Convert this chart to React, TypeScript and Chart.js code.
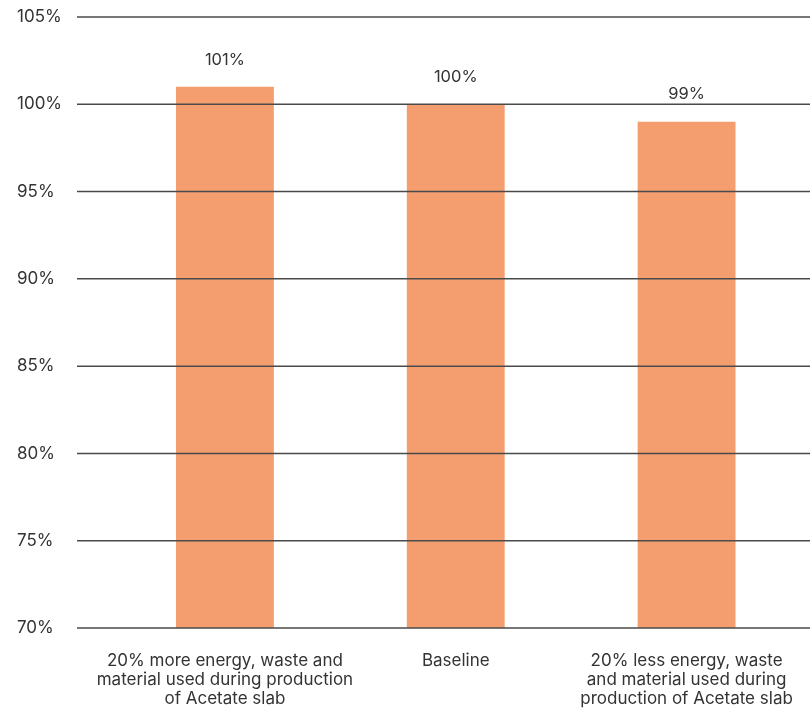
import React, { useEffect, useRef } from "react";
import { Chart, registerables } from "chart.js";

Chart.register(...registerables);

const categories: string[][] = [
  ["20% more energy, waste and", "material used during production", "of Acetate slab"],
  ["Baseline"],
  ["20% less energy, waste", "and material used during", "production of Acetate slab"],
];
const values: number[] = [101, 100, 99];
const valueLabels: string[] = ["101%", "100%", "99%"];
const yMin = 70;
const yMax = 105;
const yStep = 5;

const FONT = "Inter, 'Noto Sans', sans-serif";
const TEXT = "#333333";
const BAR = "#F49E6F";

// Horizontal rules at each y tick, painted over the bars and running edge to edge.
const gridOverBars = {
  id: "gridOverBars",
  afterDatasetsDraw(chart: any) {
    const { ctx } = chart;
    const y = chart.scales.y;
    ctx.save();
    ctx.strokeStyle = "#4a4a4a";
    ctx.lineWidth = 1.5;
    y.ticks.forEach((t: any) => {
      const py = y.getPixelForValue(t.value);
      ctx.beginPath();
      ctx.moveTo(77, py);
      ctx.lineTo(chart.width, py);
      ctx.stroke();
    });
    ctx.restore();
  },
};

// Value text above each bar.
const valueText = {
  id: "valueText",
  afterDatasetsDraw(chart: any) {
    const { ctx } = chart;
    const meta = chart.getDatasetMeta(0);
    ctx.save();
    ctx.fillStyle = TEXT;
    ctx.font = `16.5px ${FONT}`;
    ctx.textAlign = "center";
    ctx.textBaseline = "bottom";
    meta.data.forEach((bar: any, i: number) => {
      ctx.fillText(valueLabels[i], bar.x, bar.y - 19);
    });
    ctx.restore();
  },
};

export default function App() {
  const ref = useRef<HTMLCanvasElement | null>(null);

  useEffect(() => {
    if (!ref.current) return;
    const chart = new Chart(ref.current, {
      type: "bar",
      data: {
        labels: categories,
        datasets: [
          {
            data: values,
            backgroundColor: BAR,
            borderWidth: 0,
            barPercentage: 0.424,
            categoryPercentage: 1,
          },
        ],
      },
      options: {
        animation: false,
        responsive: false,
        maintainAspectRatio: false,
        layout: { padding: { top: 17, left: 17, right: 8, bottom: 0 } },
        plugins: { legend: { display: false }, tooltip: { enabled: false } },
        scales: {
          x: {
            grid: { display: false, drawTicks: false },
            border: { display: false },
            ticks: {
              color: TEXT,
              font: { family: FONT, size: 17, lineHeight: 1.12 },
              padding: 23,
              maxRotation: 0,
              autoSkip: false,
            },
            afterFit: (s: any) => {
              s.height = 84;
              // let the outer labels overhang instead of shrinking the plot
              s.paddingLeft = 0;
              s.paddingRight = 0;
            },
          },
          y: {
            min: yMin,
            max: yMax,
            grid: { display: false, drawTicks: false },
            border: { display: false },
            ticks: {
              stepSize: yStep,
              crossAlign: "far",
              color: TEXT,
              font: { family: FONT, size: 17 },
              callback: (v: any) => `${v}%`,
            },
            afterFit: (s: any) => {
              s.width = 92.5;
            },
          },
        },
      },
      plugins: [gridOverBars, valueText],
    });
    return () => chart.destroy();
  }, []);

  return (
    <div style={{ position: "fixed", left: 0, top: 0, width: 810, height: 712, background: "#fff" }}>
      <canvas ref={ref} width={810} height={712} />
    </div>
  );
}
